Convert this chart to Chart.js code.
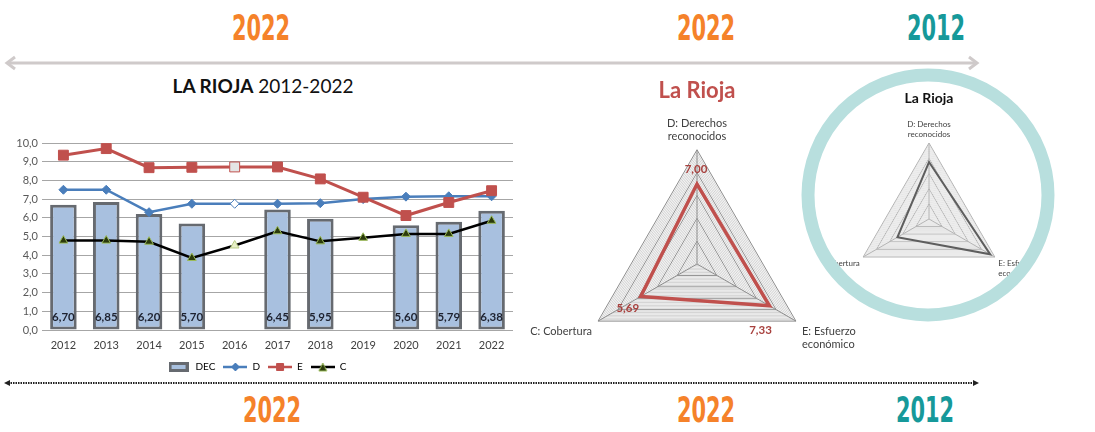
<!DOCTYPE html>
<html>
<head>
<meta charset="UTF-8">
<title>La Rioja 2012-2022</title>
<script src="https://cdn.jsdelivr.net/npm/chart.js@4.4.0/dist/chart.umd.min.js"></script>
<style>
  body { margin: 0; width: 1095px; height: 432px; background: #fff; position: relative; overflow: hidden; font-family: Lato, "Open Sans", sans-serif; }
  .anio { position: absolute; width: 80px; margin-left: -40px; text-align: center; line-height: 31px; height: 31px;
          font: bold 31px "Liberation Sans Narrow", "DejaVu Sans Condensed", sans-serif; transform: scale(0.75, 1.17); }
  .naranja { color: #f5822a; }
  .verde { color: #16999a; }
  .caja { position: absolute; }
  #titulo { position: absolute; left: 113px; width: 300px; top: 74px; text-align: center; font-size: 19px; color: #111; }
  #deco { position: absolute; left: 0; top: 0; z-index: 1; pointer-events: none; }
  #anillo { position: absolute; left: 0; top: 0; z-index: 3; pointer-events: none; }
</style>
</head>
<body>

<svg id="deco" width="1095" height="432">
  <!-- flecha gris superior -->
  <line x1="8" y1="63" x2="976" y2="63" stroke="#cfcaca" stroke-width="3"/>
  <polyline points="15,57 7,63 15,69" fill="none" stroke="#cfcaca" stroke-width="3"/>
  <polyline points="969,57 977,63 969,69" fill="none" stroke="#cfcaca" stroke-width="3"/>
  <!-- flecha punteada inferior -->
  <line x1="8" y1="383" x2="975" y2="383" stroke="#222" stroke-width="2" stroke-dasharray="1.5 1"/>
  <polygon points="4,383 10,380 10,386" fill="#222"/>
  <polygon points="979,383 973,380 973,386" fill="#222"/>
</svg>

<div class="anio naranja" style="left:261px; top:9px">2022</div>
<div class="anio naranja" style="left:706px; top:9px">2022</div>
<div class="anio verde" style="left:936px; top:9px">2012</div>
<div class="anio naranja" style="left:272px; top:391px">2022</div>
<div class="anio naranja" style="left:706px; top:391px">2022</div>
<div class="anio verde" style="left:925px; top:391px">2012</div>

<div id="titulo"><b>LA RIOJA</b> 2012-2022</div>

<div class="caja" style="left:0; top:128px; z-index:2">
  <canvas id="evolucion" width="525" height="254"></canvas>
</div>

<div class="caja" style="left:457px; top:78px; z-index:2">
  <canvas id="radar2022" width="480" height="318"></canvas>
</div>

<div class="caja" style="left:749px; top:90px; z-index:2; clip-path: circle(114px at 179px 105px)">
  <canvas id="radar2012" width="360" height="218"></canvas>
</div>

<svg id="anillo" width="1095" height="432">
  <circle cx="928" cy="195" r="120" fill="none" stroke="#b8dfde" stroke-width="13"/>
</svg>

<script>
// datos de la serie 2012-2022
const anios = ['2012', '2013', '2014', '2015', '2016', '2017', '2018', '2019', '2020', '2021', '2022'];
const dec = [6.70, 6.85, 6.20, 5.70, null, 6.45, 5.95, null, 5.60, 5.79, 6.38];
const serieD = [7.50, 7.50, 6.30, 6.75, 6.75, 6.75, 6.78, 7.00, 7.13, 7.15, 7.15];
const serieE = [9.35, 9.70, 8.68, 8.70, 8.72, 8.72, 8.08, 7.10, 6.12, 6.82, 7.45];
const serieC = [4.78, 4.78, 4.72, 3.85, 4.52, 5.28, 4.74, 4.93, 5.14, 5.14, 5.84];
const ticksY = [0, 1, 2, 3, 4, 5, 6, 7, 8, 9, 10];

// radares
const ejes = [['D: Derechos', 'reconocidos'], ['E: Esfuerzo', 'económico'], 'C: Cobertura'];
const valores2022 = [7.00, 7.33, 5.69];
const valores2012 = [7.5, 9.3, 4.8];

const coma = (v, d) => v.toFixed(d).replace('.', ',');

// 2016 lleva los marcadores huecos
const marcas = (color, vacio) => anios.map(a => a === '2016' ? vacio : color);

// iconos de la leyenda (linea + marcador)
function iconoLinea(color, tipo, relleno, borde) {
  const c = document.createElement('canvas');
  c.width = 24; c.height = 12;
  const g = c.getContext('2d');
  g.strokeStyle = color; g.lineWidth = 2.5;
  g.beginPath(); g.moveTo(0, 6); g.lineTo(24, 6); g.stroke();
  g.fillStyle = relleno; g.strokeStyle = borde; g.lineWidth = 1;
  g.beginPath();
  if (tipo === 'rombo') { g.moveTo(12, 2); g.lineTo(16, 6); g.lineTo(12, 10); g.lineTo(8, 6); g.closePath(); }
  if (tipo === 'cuadro') { g.rect(8.5, 2.5, 7, 7); }
  if (tipo === 'triangulo') { g.moveTo(12, 2); g.lineTo(16, 10); g.lineTo(8, 10); g.closePath(); }
  g.fill(); g.stroke();
  return c;
}
function iconoBarra() {
  const c = document.createElement('canvas');
  c.width = 20; c.height = 10;
  const g = c.getContext('2d');
  g.fillStyle = '#a8c0df'; g.fillRect(0, 0, 20, 10);
  g.strokeStyle = '#666a70'; g.lineWidth = 3; g.strokeRect(1.5, 1.5, 17, 7);
  return c;
}
const iconos = [
  iconoBarra(),
  iconoLinea('#4a7ebb', 'rombo', '#4a7ebb', '#4a7ebb'),
  iconoLinea('#c0504d', 'cuadro', '#c0504d', '#c0504d'),
  iconoLinea('#000', 'triangulo', '#2b3a0c', '#9bbb59')
];

// valores de DEC dentro de la barra, junto a la base
const valoresBarras = {
  id: 'valoresBarras',
  afterDatasetsDraw(chart) {
    const ctx = chart.ctx;
    const base = chart.scales.y.getPixelForValue(0);
    ctx.save();
    ctx.font = 'bold 11.5px Lato, sans-serif';
    ctx.fillStyle = '#1e2230';
    ctx.textAlign = 'center';
    ctx.textBaseline = 'middle';
    chart.getDatasetMeta(0).data.forEach((bar, i) => {
      if (dec[i] == null) return;
      ctx.fillText(coma(dec[i], 2), bar.x, base - 13);
    });
    ctx.restore();
  }
};

new Chart(document.getElementById('evolucion'), {
  type: 'bar',
  data: {
    labels: anios,
    datasets: [
      { label: 'DEC', data: dec, order: 10, backgroundColor: '#a8c0df', borderColor: '#666a70', borderWidth: 3,
        borderSkipped: false, barPercentage: 0.62, categoryPercentage: 1 },
      { type: 'line', label: 'D', data: serieD, order: 2, borderColor: '#4a7ebb', borderWidth: 2.5,
        pointStyle: 'rectRot', pointRadius: 4.5, pointBackgroundColor: marcas('#4a7ebb', '#ffffff'),
        pointBorderColor: '#4a7ebb', pointBorderWidth: 1 },
      { type: 'line', label: 'E', data: serieE, order: 1, borderColor: '#c0504d', borderWidth: 3,
        pointStyle: 'rect', pointRadius: 7, pointBackgroundColor: marcas('#c0504d', '#e4e4e4'),
        pointBorderColor: '#c0504d', pointBorderWidth: 1 },
      { type: 'line', label: 'C', data: serieC, order: 3, borderColor: '#000000', borderWidth: 2.5,
        pointStyle: 'triangle', pointRadius: 5, pointBackgroundColor: marcas('#2b3a0c', '#e8f0c8'),
        pointBorderColor: marcas('#9bbb59', '#b9cc86'), pointBorderWidth: 1 }
    ]
  },
  options: {
    responsive: false,
    animation: false,
    layout: { padding: { top: 15, right: 12 } },
    plugins: {
      tooltip: { enabled: false },
      legend: {
        position: 'bottom',
        labels: {
          usePointStyle: true,
          pointStyleWidth: 24,
          padding: 8,
          color: '#404040',
          font: { size: 10, family: 'Lato' },
          generateLabels: chart => chart.data.datasets.map((ds, i) => ({
            text: ds.label, pointStyle: iconos[i], datasetIndex: i, hidden: false, lineWidth: 0,
            fillStyle: 'transparent', strokeStyle: 'transparent'
          }))
        }
      }
    },
    scales: {
      x: {
        grid: { display: false, drawTicks: false },
        border: { display: false },
        ticks: { color: '#404040', font: { size: 11, family: 'Lato' }, padding: 9 },
        afterFit(s) { s.height = 24; }
      },
      y: {
        min: 0, max: 10,
        afterBuildTicks(s) { s.ticks = ticksY.map(v => ({ value: v })); },
        ticks: { callback: v => coma(v, 1), color: '#595959', font: { size: 11, family: 'Lato' }, padding: 4 },
        grid: { color: '#a6a6a6', drawTicks: false },
        border: { display: false },
        afterFit(s) { s.width = 42; }
      }
    }
  },
  plugins: [valoresBarras]
});

// radar 2022 con sus valores
const valoresRadar = {
  id: 'valoresRadar',
  afterDatasetsDraw(chart) {
    const r = chart.scales.r;
    const ctx = chart.ctx;
    const desplaz = [[-1, -15], [-9, 24], [-13, 12]];
    ctx.save();
    ctx.font = 'bold 11.5px Lato, sans-serif';
    ctx.fillStyle = '#a8413e';
    ctx.textAlign = 'center';
    ctx.textBaseline = 'middle';
    valores2022.forEach((v, i) => {
      const p = r.getPointPositionForValue(i, v);
      ctx.fillText(coma(v, 2), p.x + desplaz[i][0], p.y + desplaz[i][1]);
    });
    ctx.restore();
  }
};

function opcionesRadar(titulo, colorTitulo, tamTitulo, padTitulo, tamEtiqueta, mayor, menor, padEtiqueta) {
  return {
    responsive: false,
    animation: false,
    plugins: {
      legend: { display: false },
      tooltip: { enabled: false },
      title: { display: true, text: titulo, color: colorTitulo, font: { size: tamTitulo, weight: 'bold', family: 'Lato' },
               padding: padTitulo }
    },
    scales: {
      r: {
        min: 0, max: 10,
        ticks: { display: false, stepSize: 0.25 },
        grid: { color: c => (c.tick && c.tick.value % 2 === 0) ? mayor : menor, lineWidth: 1 },
        angleLines: { color: mayor },
        pointLabels: { color: '#404040', font: { size: tamEtiqueta, family: 'Lato' }, padding: padEtiqueta }
      }
    }
  };
}

new Chart(document.getElementById('radar2022'), {
  type: 'radar',
  data: {
    labels: ejes,
    datasets: [{ data: valores2022, borderColor: '#c0504d', borderWidth: 3.5, pointRadius: 0, fill: false }]
  },
  options: opcionesRadar('La Rioja', '#c0504d', 22, { top: 0, bottom: -4 }, 11, '#8c8c8c', '#d4d4d4', 7),
  plugins: [valoresRadar]
});

new Chart(document.getElementById('radar2012'), {
  type: 'radar',
  data: {
    labels: ejes,
    datasets: [{ data: valores2012, borderColor: '#5e5e5e', borderWidth: 2, pointRadius: 0, fill: false }]
  },
  options: opcionesRadar('La Rioja', '#111111', 14, { top: 0, bottom: 1 }, 8, '#b4b4b4', '#e6e6e6', 4)
});
</script>
</body>
</html>
